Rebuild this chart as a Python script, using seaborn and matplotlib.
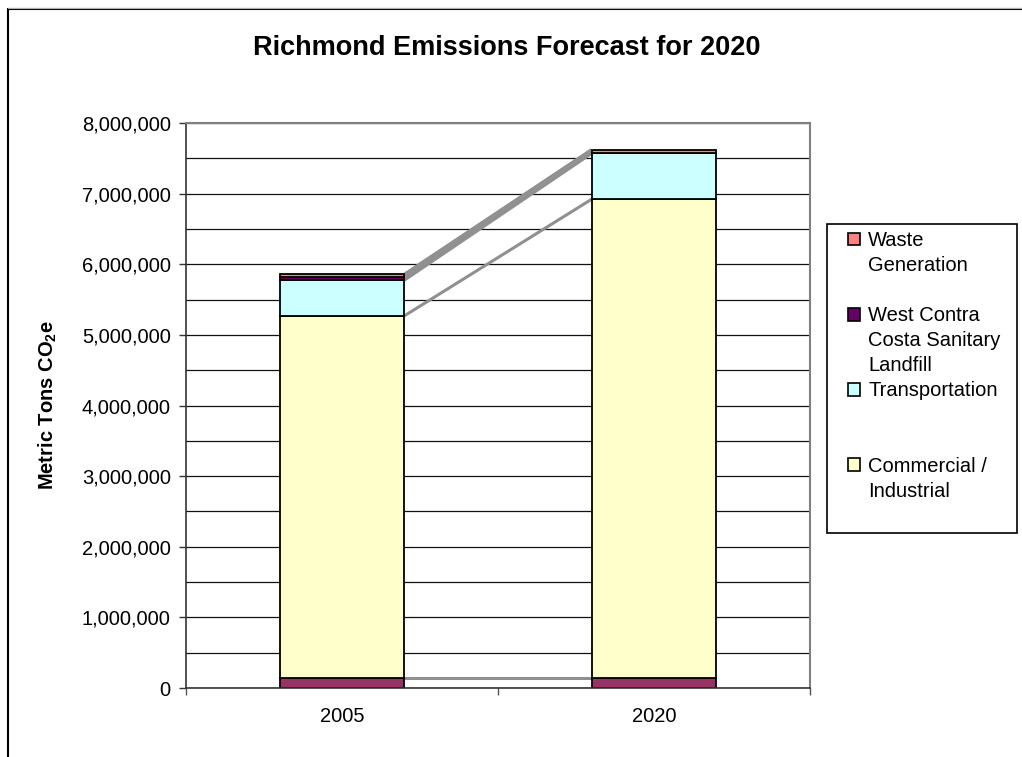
import numpy as np
import pandas as pd
import seaborn as sns
import matplotlib
matplotlib.use("Agg")
import matplotlib.pyplot as plt
from matplotlib.patches import Rectangle
from matplotlib.lines import Line2D
from matplotlib.legend_handler import HandlerPatch
from matplotlib.ticker import FuncFormatter, MultipleLocator

# ---------------- data ----------------
categories = ["2005", "2020"]
residential = [135000, 135000]            # bottom segment (not listed in legend)
commercial_industrial = [5135000, 6785000]
transportation = [505000, 650000]
landfill = [42000, 6000]
waste_generation = [42000, 48000]

series_names = ["Residential", "Commercial / Industrial", "Transportation",
                "West Contra Costa Sanitary Landfill", "Waste Generation"]
series_values = [residential, commercial_industrial, transportation,
                 landfill, waste_generation]
series_colors = ["#993366", "#FFFFCC", "#CCFFFF", "#660066", "#FF8080"]
legend_lines = [
    ("Waste Generation", ["Waste", "Generation", " "]),
    ("West Contra Costa Sanitary Landfill", ["West Contra", "Costa Sanitary", "Landfill"]),
    ("Transportation", ["Transportation", " ", " "]),
    ("Commercial / Industrial", ["Commercial /", "Industrial", " "]),
]
y_ticks = list(range(0, 8000001, 1000000))
title = "Richmond Emissions Forecast for 2020"

# ---------------- style ----------------
sns.set_theme(style="white")
plt.rcParams["font.family"] = ["Liberation Sans", "DejaVu Sans"]
plt.rcParams["mathtext.fontset"] = "custom"
plt.rcParams["mathtext.rm"] = "Liberation Sans"
plt.rcParams["mathtext.bf"] = "Liberation Sans:bold"
for k in ["text.color", "axes.labelcolor", "xtick.color", "ytick.color"]:
    plt.rcParams[k] = "black"

W, H, DPI = 1022, 757, 100
fig = plt.figure(figsize=(W / DPI, H / DPI), dpi=DPI, facecolor="white")
ax = fig.add_axes([186 / W, 1 - 688 / H, (810 - 186) / W, (688 - 123) / H])

df = pd.DataFrame({"year": categories})
bottom = np.zeros(len(categories))
tops = []
for name, vals, col in zip(series_names, series_values, series_colors):
    df["v"] = vals
    sns.barplot(data=df, x="year", y="v", order=categories, bottom=bottom.copy(),
                color=col, saturation=1, width=0.4, edgecolor="black",
                linewidth=1.3, errorbar=None, ax=ax, zorder=2)
    bottom = bottom + np.array(vals)
    tops.append(bottom.copy())

# series lines connecting segment tops
for t in tops:
    ax.plot([0 + 0.2, 1 - 0.2], [t[0], t[1]], color="#909090", lw=2.2,
            zorder=1.5, solid_capstyle="butt")

ax.set_xlim(-0.5, 1.5)
ax.set_ylim(0, 8000000)
ax.set_yticks(y_ticks)
ax.yaxis.set_minor_locator(MultipleLocator(500000))
ax.yaxis.set_major_formatter(FuncFormatter(lambda v, p: f"{int(v):,}"))
ax.grid(False)
ax.set_axisbelow(True)
ax.yaxis.grid(True, which="both", color="#111111", lw=0.9, zorder=0)

# x ticks: marks at category boundaries, labels at centres
ax.set_xticks([-0.5, 0.5, 1.5])
ax.set_xticklabels([])
ax.set_xticks([0, 1], minor=True)
ax.set_xticklabels(categories, minor=True)
ax.tick_params(axis="x", which="major", direction="out", length=5, width=1,
               color="#555555", bottom=True)
ax.tick_params(axis="x", which="minor", length=0, pad=14, labelsize=14.5)
ax.tick_params(axis="y", which="major", direction="out", length=5, width=1,
               color="#333333", left=True, pad=6, labelsize=14.5)
ax.tick_params(axis="y", which="minor", length=0)
ax.set_xlabel("")
ax.set_ylabel(r"Metric Tons CO$_\mathbf{2}$e", fontsize=14.5, fontweight="bold")
ax.yaxis.set_label_coords((59 - 186) / (810 - 186), 0.5)

for s in ["left", "bottom"]:
    ax.spines[s].set_color("#333333")
    ax.spines[s].set_linewidth(1.2)
for s in ["top", "right"]:
    ax.spines[s].set_color("#808080")
    ax.spines[s].set_linewidth(1.5)
    ax.spines[s].set_visible(True)

fig.text(507 / W, 1 - 48 / H, title, ha="center", va="center",
         fontsize=19.5, fontweight="bold")

# ---------------- legend ----------------
color_of = dict(zip(series_names, series_colors))
handles, labels = [], []
for name, lines in legend_lines:
    for i, ln in enumerate(lines):
        if i == 0:
            handles.append(Rectangle((0, 0), 1, 1, facecolor=color_of[name],
                                     edgecolor="black", lw=1.2))
        else:
            handles.append(Rectangle((0, 0), 1, 1, facecolor="none",
                                     edgecolor="none", lw=0))
        labels.append(ln)


def square_patch(legend, orig_handle, xdescent, ydescent, width, height, fontsize):
    s = 0.62 * fontsize
    return Rectangle((-xdescent + width - s, -ydescent + (height - s) / 2), s, s)


leg = ax.legend(handles, labels, loc="upper left",
                bbox_to_anchor=(827 / W, 1 - 532 / H, 190 / W, 308 / H),
                bbox_transform=fig.transFigure, mode="expand", borderaxespad=0,
                fontsize=14.5, frameon=True, fancybox=False, shadow=False,
                framealpha=1, edgecolor="black", handlelength=1.29,
                handleheight=0.7, handletextpad=0.4, labelspacing=0.30,
                borderpad=0.36,
                handler_map={Rectangle: HandlerPatch(patch_func=square_patch)})
leg.get_frame().set_linewidth(1.2)

# outer chart frame
fig.add_artist(Line2D([8 / W, 8 / W], [1 - 9 / H, 0], transform=fig.transFigure,
                      color="black", lw=1.5))
fig.add_artist(Line2D([8 / W, 1], [1 - 9 / H, 1 - 9 / H], transform=fig.transFigure,
                      color="black", lw=1.5))
fig.add_artist(Line2D([8 / W, 1], [1 - 7.5 / H, 1 - 7.5 / H], transform=fig.transFigure,
                      color="#b0b0b0", lw=0.8))

fig.savefig("out.png", dpi=DPI, facecolor="white")
